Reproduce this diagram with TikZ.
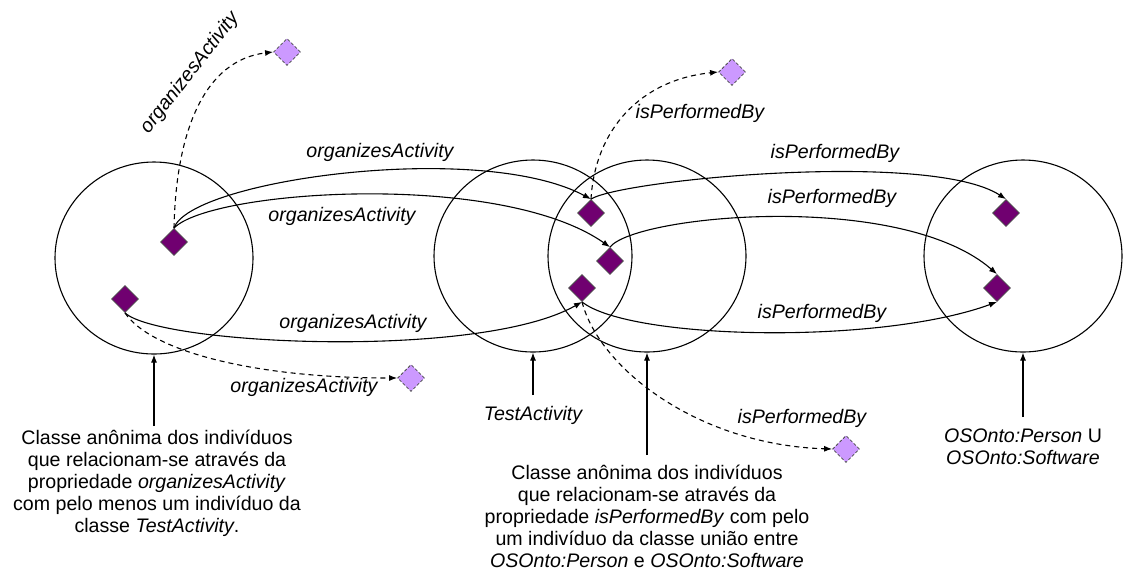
\documentclass[tikz,border=0pt]{standalone}
\usepackage{fontspec}
\setmainfont{Liberation Sans}
\usetikzlibrary{shapes.geometric,arrows.meta}
\definecolor{indiv}{RGB}{112,0,112}
\definecolor{anonfill}{RGB}{204,153,255}
\tikzset{classe/.style={draw,ellipse,line width=0.55pt,minimum width=99pt,minimum height=96pt,inner sep=0pt}}
\tikzset{ind/.style={draw=black!70,fill=indiv,diamond,inner sep=0pt,minimum width=13.5pt,minimum height=13.5pt,line width=0.4pt}}
\tikzset{anon/.style={ind,fill=anonfill,dash pattern=on 1.5pt off 1pt}}
\tikzset{prop/.style={font=\fontsize{9.8}{11}\selectfont\itshape,inner sep=0pt}}
\tikzset{txt/.style={font=\fontsize{9.8}{11}\selectfont,align=center,inner sep=0pt}}
\tikzset{
		% solid relation, filled tip
		rel/.style={line width=0.55pt,-{Latex[length=4pt,width=3pt]}},
		% relation to an anonymous individual
		relx/.style={rel,dash pattern=on 2.5pt off 2pt},
	}

\begin{document}
\begin{tikzpicture}[x=0.5pt,y=-0.5pt]
		\useasboundingbox (0,0) rectangle (1124,586);
		
		\node[classe] (c1) at (154,258) {};
		\node[classe] (c2) at (533,256) {};
		\node[classe] (c3) at (647,256) {};
		\node[classe] (c4) at (1023,256) {};
		
		\node[ind] (d1) at (174,242) {};
		\node[ind] (d2) at (125,299) {};
		\node[ind] (d3) at (591,213) {};
		\node[ind] (d4) at (610,261) {};
		\node[ind] (d5) at (582,288) {};
		\node[ind] (d6) at (1006,213) {};
		\node[ind] (d7) at (997,288) {};
		
		\node[anon] (l1) at (287,52) {};
		\node[anon] (l2) at (411,378) {};
		\node[anon] (l3) at (732,72) {};
		\node[anon] (l4) at (846,449) {};
		
		\draw[rel] (d1.north) .. controls (190,180) and (480,140) .. (d3.north);
		\draw[rel] (d1.north) .. controls (210,190) and (500,170) .. (d4.north);
		\draw[rel] (d2.south) .. controls (160,345) and (480,360) .. (d5.south);
		\draw[rel] (d3.north) .. controls (620,180) and (930,150) .. (d6.north);
		\draw[rel] (d4.north) .. controls (635,215) and (900,190) .. (d7.north);
		\draw[rel] (d5.south) .. controls (630,340) and (880,345) .. (d7.south);
		
		\draw[relx] (d1.north) .. controls (176,130) and (205,60) .. (l1.west);
		\draw[relx] (d2.south) .. controls (150,350) and (250,378) .. (l2.west);
		\draw[relx] (d3.north) .. controls (595,130) and (640,80) .. (l3.west);
		\draw[relx] (d5.south) .. controls (600,370) and (700,445) .. (l4.west);
		
		\node[prop,rotate=52] (o0) at (190,73) {organizesActivity};
		\node[prop] (o1) at (380,152) {organizesActivity};
		\node[prop] (o2) at (342,216) {organizesActivity};
		\node[prop] (o3) at (353,323) {organizesActivity};
		\node[prop] (o4) at (304,387) {organizesActivity};
		\node[prop] (p0) at (700,113) {isPerformedBy};
		\node[prop] (p1) at (835,153) {isPerformedBy};
		\node[prop] (p2) at (832,198) {isPerformedBy};
		\node[prop] (p3) at (822,313) {isPerformedBy};
		\node[prop] (p4) at (802,418) {isPerformedBy};
		
		\node[txt,anchor=north] (t1) at (157,430) {Classe anônima dos indivíduos\\que relacionam-se através da\\propriedade \textit{organizesActivity}\\com pelo menos um indivíduo da\\classe \textit{TestActivity}.};
		\node[prop,anchor=north] (t2) at (533,406) {TestActivity};
		\node[txt,anchor=north] (t3) at (647,465) {Classe anônima dos indivíduos\\que relacionam-se através da\\propriedade \textit{isPerformedBy} com pelo\\um indivíduo da classe união entre\\\textit{OSOnto:Person} e \textit{OSOnto:Software}};
		\node[txt,anchor=north] (t4) at (1023,428) {\textit{OSOnto:Person} U\\\textit{OSOnto:Software}};
		
		\coordinate (a1) at (154,426);
		\coordinate (a2) at (533,395);
		\coordinate (a3) at (647,455);
		\coordinate (a4) at (1023,417);
		\draw[rel] (a1) -- (c1.south);
		\draw[rel] (a2) -- (c2.south);
		\draw[rel] (a3) -- (c3.south);
		\draw[rel] (a4) -- (c4.south);
		
		\end{tikzpicture}
\end{document}
